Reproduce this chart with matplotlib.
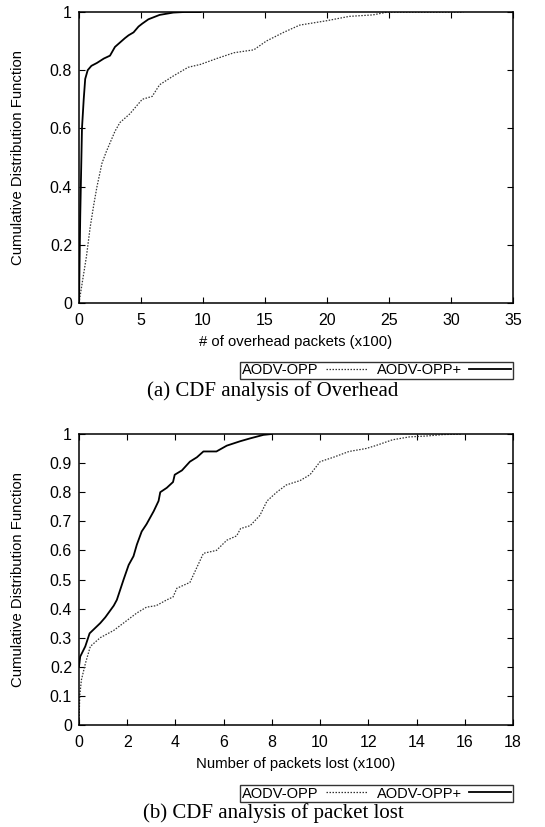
import matplotlib
matplotlib.use("Agg")
import matplotlib.pyplot as plt
from matplotlib.ticker import FixedLocator

# ---- data (a) overhead, x in units of 100 packets ----
a_opp_x = [0, 0.3, 0.6, 0.9, 1.2, 1.45, 1.85, 2.2, 2.5, 2.9, 3.3, 3.7, 4.1, 4.6, 5.1,
           5.9, 6.5, 7.6, 8.8, 9.8, 11.1, 12.5, 14.1, 15.1, 16.5, 17.8, 19.97, 21.8,
           23.7, 24.9, 31.0]
a_opp_y = [0, 0.08, 0.16, 0.26, 0.34, 0.40, 0.48, 0.52, 0.55, 0.59, 0.62, 0.635, 0.65,
           0.675, 0.70, 0.71, 0.75, 0.78, 0.81, 0.82, 0.84, 0.86, 0.87, 0.90, 0.93,
           0.955, 0.97, 0.985, 0.99, 1.0, 1.0]
a_plus_x = [0, 0.1, 0.24, 0.38, 0.5, 0.7, 1.0, 1.45, 2.0, 2.5, 2.9, 3.3, 3.7, 4.0, 4.4,
            4.8, 5.1, 5.6, 6.5, 7.6, 8.5, 9.8]
a_plus_y = [0, 0.3, 0.6, 0.70, 0.77, 0.80, 0.815, 0.825, 0.84, 0.85, 0.88, 0.895, 0.91,
            0.92, 0.93, 0.95, 0.96, 0.975, 0.99, 0.998, 1.0, 1.0]
a_xticks = [0, 5, 10, 15, 20, 25, 30, 35]
a_yticks = [0, 0.2, 0.4, 0.6, 0.8, 1]
a_ylabels = ["0", "0.2", "0.4", "0.6", "0.8", "1"]

# ---- data (b) packets lost, x in units of 100 packets ----
b_opp_x = [0, 0.03, 0.1, 0.26, 0.47, 0.88, 1.44, 2.0, 2.4, 2.8, 3.2, 3.64, 3.9, 4.06,
           4.6, 5.16, 5.7, 6.13, 6.54, 6.7, 7.1, 7.5, 7.8, 8.2, 8.6, 9.17, 9.58, 10.0,
           10.55, 11.2, 11.9, 12.3, 13.0, 13.7, 14.4, 15.1, 15.9]
b_opp_y = [0, 0.10, 0.155, 0.21, 0.27, 0.30, 0.325, 0.36, 0.385, 0.405, 0.41, 0.43,
           0.44, 0.47, 0.49, 0.59, 0.60, 0.635, 0.65, 0.675, 0.685, 0.72, 0.77, 0.80,
           0.825, 0.84, 0.86, 0.905, 0.92, 0.94, 0.95, 0.96, 0.98, 0.99, 0.993, 0.998, 1.0]
b_plus_x = [0, 0.05, 0.26, 0.44, 0.88, 1.09, 1.44, 1.57, 1.85, 2.06, 2.26, 2.4, 2.6,
            2.8, 3.1, 3.3, 3.37, 3.64, 3.9, 3.97, 4.27, 4.6, 4.89, 5.16, 5.7, 6.13,
            6.68, 7.1, 7.65, 8.0]
b_plus_y = [0.2, 0.235, 0.27, 0.315, 0.35, 0.37, 0.41, 0.43, 0.50, 0.55, 0.58, 0.62,
            0.665, 0.69, 0.735, 0.77, 0.80, 0.815, 0.835, 0.86, 0.875, 0.905, 0.92,
            0.94, 0.94, 0.96, 0.975, 0.985, 0.997, 1.0]
b_xticks = [0, 2, 4, 6, 8, 10, 12, 14, 16, 18]
b_yticks = [0, 0.1, 0.2, 0.3, 0.4, 0.5, 0.6, 0.7, 0.8, 0.9, 1]
b_ylabels = ["0", "0.1", "0.2", "0.3", "0.4", "0.5", "0.6", "0.7", "0.8", "0.9", "1"]

series_names = ["AODV-OPP", "AODV-OPP+"]
xlabels = ["# of overhead packets (x100)", "Number of packets lost (x100)"]
ylabel = "Cumulative Distribution Function"
captions = ["(a) CDF analysis of Overhead", "(b) CDF analysis of packet lost"]

W, H = 545, 827
fig = plt.figure(figsize=(W / 100, H / 100), dpi=100)
sans = "Liberation Sans"
serif = "Liberation Serif"


def make_panel(top_px, bot_px, opp_x, opp_y, plus_x, plus_y, xticks, yticks, ylabels,
               xlabel, caption, xlabel_y_px, legend_y_px, caption_y_px):
    left, right = 79, 513
    h = bot_px - top_px
    wdt = right - left
    ax = fig.add_axes([left / W, 1 - bot_px / H, wdt / W, h / H])
    l1, = ax.plot(opp_x, opp_y, color="#333333", lw=0.9, linestyle=(0, (1.2, 1.2)))
    l2, = ax.plot(plus_x, plus_y, color="black", lw=1.3)
    ax.set_xlim(xticks[0], xticks[-1])
    ax.set_ylim(0, 1)
    ax.xaxis.set_major_locator(FixedLocator(xticks))
    ax.set_xticklabels([str(t) for t in xticks], fontfamily=sans, fontsize=11.5)
    ax.yaxis.set_major_locator(FixedLocator(yticks))
    ax.set_yticklabels(ylabels, fontfamily=sans, fontsize=11.5)
    ax.tick_params(direction="in", top=True, right=True, length=4, width=0.8)
    ax.tick_params(axis="x", pad=7)
    ax.tick_params(axis="y", pad=5)
    for s in ax.spines.values():
        s.set_linewidth(1.1)
    ax.set_xlabel(xlabel, fontfamily=sans, fontsize=10.7, va="center")
    ax.xaxis.set_label_coords(0.5, (bot_px - xlabel_y_px) / h)
    ax.set_ylabel(ylabel, fontfamily=sans, fontsize=10.7, va="center")
    ax.yaxis.set_label_coords((18 - left) / wdt, 0.5)
    leg = fig.legend([l1, l2], series_names, loc="center right",
                     bbox_to_anchor=(right / W, 1 - legend_y_px / H), ncol=2,
                     markerfirst=False, frameon=True, fancybox=False,
                     prop={"family": sans, "size": 10.5}, handlelength=2.9,
                     borderpad=0.12, columnspacing=0.6, handletextpad=0.5,
                     borderaxespad=0)
    leg.get_frame().set_edgecolor("black")
    leg.get_frame().set_linewidth(1.0)
    fig.text(273 / W, 1 - caption_y_px / H, caption, fontfamily=serif, fontsize=15,
             ha="center", va="center")
    return ax


make_panel(12, 303, a_opp_x, a_opp_y, a_plus_x, a_plus_y, a_xticks, a_yticks, a_ylabels,
           xlabels[0], captions[0], 342, 370.5, 391)
make_panel(434, 725, b_opp_x, b_opp_y, b_plus_x, b_plus_y, b_xticks, b_yticks, b_ylabels,
           xlabels[1], captions[1], 764, 793.5, 813)

fig.savefig("out.png", dpi=100)
